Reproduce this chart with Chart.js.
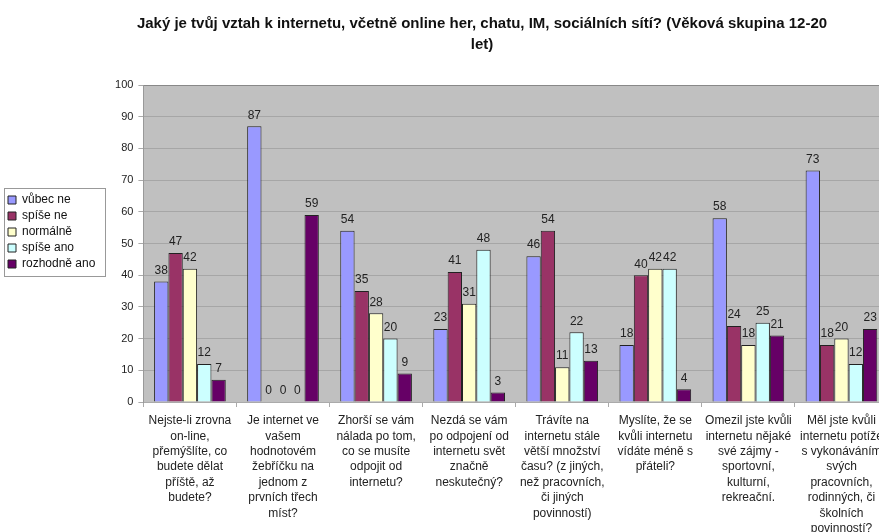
<!DOCTYPE html>
<html>
<head>
<meta charset="utf-8">
<script src="https://cdn.jsdelivr.net/npm/chart.js@4"></script>
<style>
  html, body { margin: 0; padding: 0; background: #fff; overflow: hidden; }
  #wrap { width: 960px; height: 532px; }
</style>
</head>
<body>
<div id="wrap"><canvas id="chart" width="960" height="532"></canvas></div>
<script>
const otazky = [
    ['Nejste-li zrovna', 'on-line,', 'přemýšlíte, co', 'budete dělat', 'příště, až', 'budete?'],
    ['Je internet ve', 'vašem', 'hodnotovém', 'žebříčku na', 'jednom z', 'prvních třech', 'míst?'],
    ['Zhorší se vám', 'nálada po tom,', 'co se musíte', 'odpojit od', 'internetu?'],
    ['Nezdá se vám', 'po odpojení od', 'internetu svět', 'značně', 'neskutečný?'],
    ['Trávíte na', 'internetu stále', 'větší množství', 'času? (z jiných,', 'než pracovních,', 'či jiných', 'povinností)'],
    ['Myslíte, že se', 'kvůli internetu', 'vídáte méně s', 'přáteli?'],
    ['Omezil jste kvůli', 'internetu nějaké', 'své zájmy -', 'sportovní,', 'kulturní,', 'rekreační.'],
    ['Měl jste kvůli', 'internetu potíže', 's vykonáváním', 'svých', 'pracovních,', 'rodinných, či', 'školních', 'povinností?']
]

const vubecNe     = [38, 87, 54, 23, 46, 18, 58, 73]
const spiseNe     = [47,  0, 35, 41, 54, 40, 24, 18]
const normalne    = [42,  0, 28, 31, 11, 42, 18, 20]
const spiseAno    = [12,  0, 20, 48, 22, 42, 25, 12]
const rozhodneAno = [ 7, 59,  9,  3, 13,  4, 21, 23]

const nazvyRad = ['vůbec ne', 'spíše ne', 'normálně', 'spíše ano', 'rozhodně ano']
const barvy = ['#9999ff', '#993366', '#ffffcc', '#ccffff', '#660066']

const yMin = 0
const yMax = 100
const yStep = 10

const font = '"Liberation Sans", Arial, sans-serif'

// sede pozadi grafu
const plotBackground = {
    id: 'plotBackground',
    beforeDraw(chart) {
        const {ctx, chartArea: a} = chart
        ctx.save()
        ctx.fillStyle = '#c0c0c0'
        ctx.fillRect(a.left, a.top, a.right - a.left, a.bottom - a.top)
        ctx.restore()
    }
}

// hodnoty nad sloupci
const valueLabels = {
    id: 'valueLabels',
    afterDatasetsDraw(chart) {
        const ctx = chart.ctx
        ctx.save()
        ctx.font = '12px ' + font
        ctx.fillStyle = '#222'
        ctx.textAlign = 'center'
        ctx.textBaseline = 'bottom'
        chart.data.datasets.forEach((ds, i) => {
            chart.getDatasetMeta(i).data.forEach((bar, j) => {
                ctx.fillText(ds.data[j], bar.x, bar.y - 5)
            })
        })
        ctx.restore()
    }
}

// ramecek kolem legendy
const legendFrame = {
    id: 'legendFrame',
    afterLayout(chart) {
        chart.legend.top -= 34
        chart.legend.bottom -= 34
    },
    afterDraw(chart) {
        const boxes = chart.legend.legendHitBoxes
        if (!boxes || !boxes.length) return
        const top = Math.min(...boxes.map(b => b.top)) - 6
        const bottom = Math.max(...boxes.map(b => b.top + b.height)) + 6
        const ctx = chart.ctx
        ctx.save()
        ctx.strokeStyle = '#999'
        ctx.lineWidth = 1
        ctx.strokeRect(4.5, Math.round(top) + 0.5, 101, Math.round(bottom - top))
        ctx.restore()
    }
}

const ctx = document.getElementById('chart').getContext('2d')

new Chart(ctx, {
    type: 'bar',
    data: {
        labels: otazky,
        datasets: [vubecNe, spiseNe, normalne, spiseAno, rozhodneAno].map((d, i) => ({
            label: nazvyRad[i],
            data: d,
            backgroundColor: barvy[i],
            borderColor: '#222',
            borderWidth: 1,
            barPercentage: 1,
            categoryPercentage: 0.77
        }))
    },
    options: {
        responsive: false,
        animation: false,
        layout: {
            padding: { left: 4, right: 0, bottom: 0 }
        },
        scales: {
            x: {
                grid: {
                    offset: true,
                    drawOnChartArea: false,
                    tickLength: 5,
                    tickColor: '#aaa'
                },
                border: { color: '#aaa' },
                ticks: {
                    autoSkip: false,
                    maxRotation: 0,
                    color: '#222',
                    font: { family: font, size: 12, lineHeight: 1.29 },
                    padding: 6
                },
                afterFit(scale) { scale.height = 130 }
            },
            y: {
                min: yMin,
                max: yMax,
                ticks: {
                    stepSize: yStep,
                    color: '#222',
                    font: { family: font, size: 11 },
                    padding: 5
                },
                grid: {
                    color: (c) => c.tick.value === yMax ? '#888' : '#a6a6a6',
                    tickColor: '#aaa',
                    tickLength: 5
                },
                border: { color: '#999' },
                afterFit(scale) { scale.width = 38 }
            },
            // prazdne misto vpravo, aby byl nadpis na stredu celeho grafu
            yRight: {
                position: 'right',
                display: true,
                grid: { display: false },
                border: { display: false },
                ticks: { display: false },
                afterFit(scale) { scale.width = 72 }
            }
        },
        plugins: {
            legend: {
                position: 'left',
                labels: {
                    boxWidth: 8,
                    boxHeight: 8,
                    padding: 4,
                    color: '#111',
                    font: { family: font, size: 12 }
                }
            },
            title: {
                display: true,
                text: ['Jaký je tvůj vztah k internetu, včetně online her, chatu, IM, sociálních sítí? (Věková skupina 12-20', 'let)'],
                color: '#111',
                font: { family: font, size: 15, weight: 'bold', lineHeight: 1.4 },
                padding: { top: 13, bottom: 30 }
            },
            tooltip: { enabled: false }
        }
    },
    plugins: [plotBackground, valueLabels, legendFrame]
})
</script>
</body>
</html>
